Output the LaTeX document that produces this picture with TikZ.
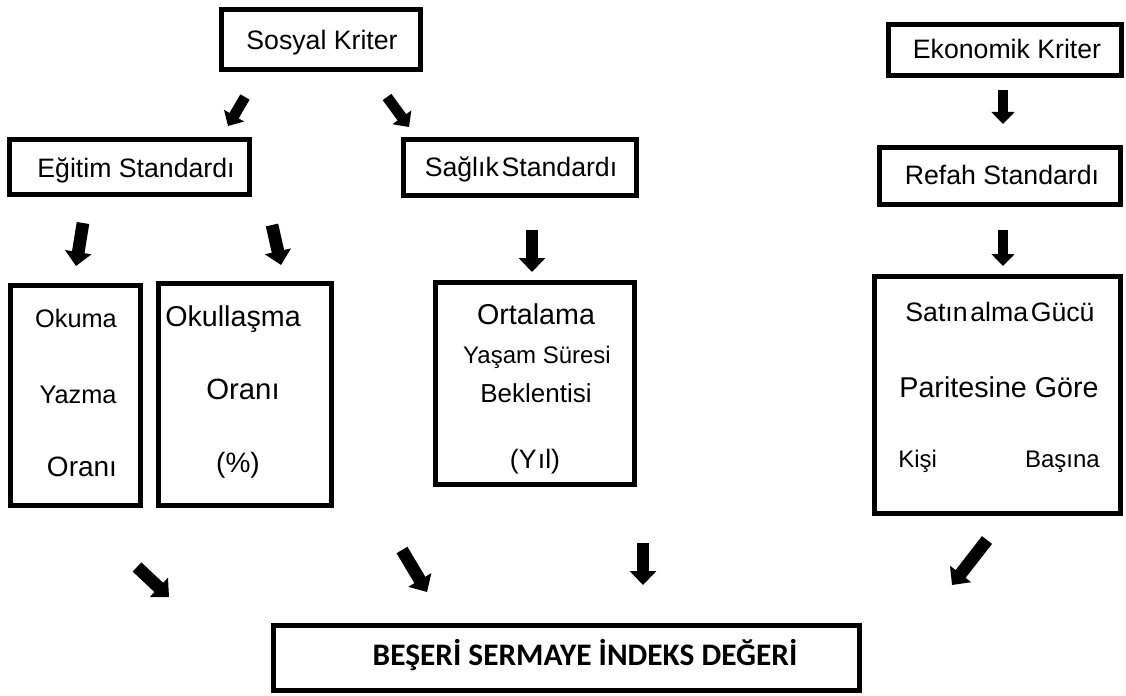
\documentclass[tikz,border=0pt]{standalone}
\usepackage{fontspec}
\setmainfont{Liberation Sans}
\newfontfamily\calibfont{Carlito}
\usetikzlibrary{arrows.meta}
\newcommand\mybox[6][]{\node[boxst,#1,minimum width={(#5-#3-4.7)*0.75pt},minimum height={(#6-#4-4.7)*0.75pt}] (#2) at ({(#3+#5)/2},{(#4+#6)/2}) {};}
\newcommand\fs[1]{\fontsize{#1}{#1}\selectfont}
\begin{document}
\begin{tikzpicture}[x=0.75pt,y=-0.75pt,
  boxst/.style={draw=black,line width=3.5pt,inner sep=0pt,outer sep=0pt,fill=white},
  txt/.style={anchor=base,inner sep=0pt,font=\fs{20}},
  blockarrow/.style={line width=9.5pt,-{Triangle[length=10.5pt,width=19.5pt]}},
  smallarrow/.style={line width=8pt,-{Triangle[length=9pt,width=17pt]}}]
\useasboundingbox[fill=white] (0,0) rectangle (1126,695);
% boxes
\mybox{sos}{219}{7}{423}{72}
\mybox{egt}{7}{137}{252}{197}
\mybox{sag}{401}{137}{639}{198}
\mybox{eko}{886}{22}{1124}{78}
\mybox{ref}{877}{145}{1123}{207}
\mybox{oku}{8}{283}{143}{508}
\mybox{okl}{156}{281}{334}{508}
\mybox{ort}{433}{280}{637}{487}
\mybox{sat}{872}{274}{1123}{516}
\node[boxst,line width=3.75pt,minimum width={(862-271-5)*0.75pt},minimum height={(693-623-5)*0.75pt}] (bes) at ({(271+862)/2},{(623+693)/2}) {};
% texts
\node[txt] (tsos) at (322,50) {Sosyal Kriter};
\node[txt] (tegt) at (136,178) {Eğitim Standardı};
\node[txt] (tsag) at (521,177) {Sağlık\hspace{2pt}Standardı};
\node[txt] (teko) at (1007,59) {Ekonomik Kriter};
\node[txt] (tref) at (1002,185) {Refah Standardı};
\node[txt,font=\fs{19}] (toku1) at (76,327) {Okuma};
\node[txt,font=\fs{19}] (toku2) at (78,403) {Yazma};
\node[txt,font=\fs{21}] (toku3) at (82,476) {Oranı};
\node[txt,font=\fs{21.5}] (tokl1) at (233,326) {Okullaşma};
\node[txt,font=\fs{22}] (tokl2) at (243,399) {Oranı};
\node[txt,font=\fs{21}] (tokl3) at (238,472) {(\%)};
\node[txt,font=\fs{21.5}] (tort1) at (536,324) {Ortalama};
\node[txt,font=\fs{18}] (tort2) at (537,363) {Yaşam Süresi};
\node[txt,font=\fs{19.5}] (tort3) at (536,402) {Beklentisi};
\node[txt,font=\fs{20}] (tort4) at (535,468) {(Y\hspace{1pt}ıl)};
\node[txt] (tsat1) at (1000,321) {Satın\hspace{2pt}alma\hspace{2pt}Gücü};
\node[txt,font=\fs{21.5}] (tsat2) at (999,397) {Paritesine Göre};
\node[txt,font=\fs{18},anchor=base west] (tsat3) at (898,467) {Kişi};
\node[txt,font=\fs{18},anchor=base east] (tsat4) at (1100,467) {Başına};
\node[txt,font=\calibfont\bfseries\fs{23.5}] (tbes) at (585,665) {BEŞERİ SERMAYE İNDEKS DEĞERİ};
% arrow end points
\coordinate (a1s) at (245,97);   \coordinate (a1e) at (228,126);
\coordinate (a2s) at (387,97);   \coordinate (a2e) at (409,127);
\coordinate (a3s) at (83,223);   \coordinate (a3e) at (76,266);
\coordinate (a4s) at (272,225);  \coordinate (a4e) at (281,265);
\coordinate (a5s) at (532,230);  \coordinate (a5e) at (532,272);
\coordinate (a6s) at (1003,90);  \coordinate (a6e) at (1003,124);
\coordinate (a7s) at (1003,230); \coordinate (a7e) at (1003,266);
\coordinate (a8s) at (137,567);  \coordinate (a8e) at (169,597);
\coordinate (a9s) at (402,550);  \coordinate (a9e) at (427,592);
\coordinate (a10s) at (643,543); \coordinate (a10e) at (643,585);
\coordinate (a11s) at (987,540); \coordinate (a11e) at (952,585);
\draw[smallarrow] (a1s) -- (a1e);
\draw[smallarrow] (a2s) -- (a2e);
\draw[blockarrow] (a3s) -- (a3e);
\draw[blockarrow] (a4s) -- (a4e);
\draw[blockarrow] (a5s) -- (a5e);
\draw[smallarrow] (a6s) -- (a6e);
\draw[smallarrow] (a7s) -- (a7e);
\draw[blockarrow] (a8s) -- (a8e);
\draw[blockarrow] (a9s) -- (a9e);
\draw[blockarrow] (a10s) -- (a10e);
\draw[blockarrow] (a11s) -- (a11e);
\end{tikzpicture}
\end{document}
